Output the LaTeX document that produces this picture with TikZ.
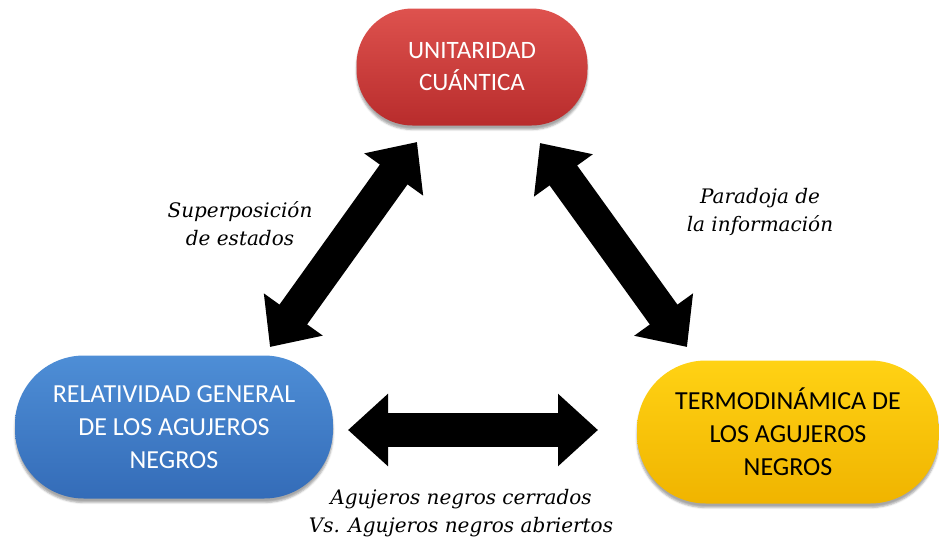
\documentclass[tikz,border=0pt]{standalone}
\usepackage{fontspec}
\setmainfont{Carlito}
\newfontfamily\labelfont{DejaVu Serif}
\usetikzlibrary{arrows.meta,shadows.blur}

\definecolor{redtop}{RGB}{222,82,78}
\definecolor{redbot}{RGB}{184,44,44}
\definecolor{bluetop}{RGB}{78,142,214}
\definecolor{bluebot}{RGB}{52,108,184}
\definecolor{yellowtop}{RGB}{255,210,20}
\definecolor{yellowbot}{RGB}{240,180,0}

\begin{document}
\begin{tikzpicture}[x=1pt,y=-1pt]
    \tikzset{box/.style={rounded corners=69pt, align=center, inner sep=0pt,
            minimum height=143pt, blur shadow={shadow xshift=0pt, shadow yshift=-4pt, shadow opacity=35},
            font=\fontsize{26}{33}\selectfont},
        fat arrow/.style={line width=34pt, {Triangle[length=40pt,width=70pt]}-{Triangle[length=40pt,width=70pt]}},
        tag/.style={align=center, font=\labelfont\itshape\fontsize{20}{28}\selectfont}}
    \useasboundingbox (0,0) rectangle (939,541);
    % \draw[gray!30] (0,0) grid[step=50pt] (939,541);
    \node[box, minimum width=231pt, minimum height=117pt, rounded corners=56pt,
        font=\fontsize{25}{32}\selectfont,
        top color=redtop, bottom color=redbot, text=white] (uni) at (472,67) {UNITARIDAD\\CUÁNTICA};
    \node[box, minimum width=318pt, top color=bluetop, bottom color=bluebot, text=white]
        (rel) at (174,427) {RELATIVIDAD GENERAL\\DE LOS AGUJEROS\\NEGROS};
    \node[box, minimum width=302pt, top color=yellowtop, bottom color=yellowbot, text=black]
        (ter) at (788,432) {TERMODINÁMICA DE\\LOS AGUJEROS\\NEGROS};
    \coordinate (rel ne) at (270,347);
    \coordinate (uni sw) at (417,142);
    \coordinate (uni se) at (540,143);
    \coordinate (ter nw) at (687,347);
    \coordinate (rel e) at (348,430);
    \coordinate (ter w) at (598,430);
    \draw[fat arrow] (rel ne) -- (uni sw);
    \draw[fat arrow] (uni se) -- (ter nw);
    \draw[fat arrow] (rel e) -- (ter w);
    \node[tag] (sup) at (240,224) {Superposición\\de estados};
    \node[tag] (par) at (760,212) {Paradoja de\\la información};
    \node[tag] (agu) at (461,513) {Agujeros negros cerrados\\Vs. Agujeros negros abriertos};
\end{tikzpicture}
\end{document}
